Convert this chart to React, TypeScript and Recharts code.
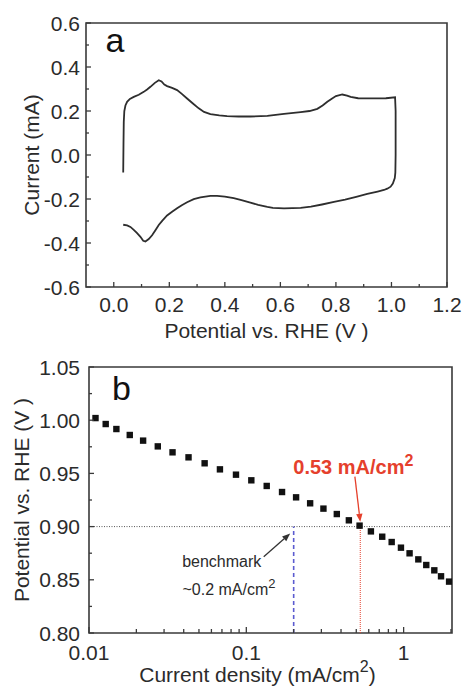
import React from 'react';
import {
  LineChart, Line, XAxis, YAxis, ReferenceArea, ReferenceDot, ReferenceLine,
  ComposedChart, Scatter,
} from 'recharts';

// ---------- Panel a: cyclic voltammogram ----------
const cvPotential = [
  0.034, 0.035, 0.036, 0.038, 0.042, 0.048, 0.058, 0.072, 0.09, 0.108, 0.12, 0.132, 0.148, 0.162, 0.172,
  0.182, 0.192, 0.21, 0.228, 0.245, 0.264, 0.285, 0.306, 0.325, 0.348, 0.38, 0.408, 0.45, 0.492, 0.553,
  0.613, 0.673, 0.705, 0.733, 0.752, 0.769, 0.785, 0.8, 0.823, 0.84, 0.853, 0.88, 0.901, 0.94, 0.98, 1.013,
  1.015, 1.015, 1.014, 1.012, 1.005, 0.997, 0.985, 0.973, 0.95, 0.913, 0.873, 0.833, 0.793, 0.75, 0.71,
  0.673, 0.613, 0.573, 0.553, 0.52, 0.492, 0.46, 0.432, 0.4, 0.372, 0.348, 0.312, 0.288, 0.264, 0.245,
  0.228, 0.21, 0.192, 0.175, 0.162, 0.15, 0.138, 0.126, 0.114, 0.106, 0.096, 0.084, 0.072, 0.06, 0.048, 0.034,
];
const cvCurrent = [
  -0.08, 0.05, 0.15, 0.2, 0.225, 0.242, 0.255, 0.264, 0.274, 0.287, 0.298, 0.31, 0.328, 0.34, 0.334,
  0.32, 0.313, 0.305, 0.295, 0.278, 0.257, 0.234, 0.212, 0.196, 0.186, 0.18, 0.177, 0.175, 0.175, 0.178,
  0.187, 0.195, 0.2, 0.21, 0.225, 0.242, 0.256, 0.268, 0.275, 0.27, 0.264, 0.258, 0.257, 0.257, 0.258, 0.262,
  0.2, 0.0, -0.08, -0.105, -0.13, -0.144, -0.153, -0.159, -0.166, -0.177, -0.19, -0.203, -0.213, -0.225, -0.235,
  -0.24, -0.243, -0.24, -0.236, -0.227, -0.216, -0.205, -0.196, -0.189, -0.186, -0.186, -0.193, -0.201, -0.215, -0.228,
  -0.242, -0.258, -0.275, -0.298, -0.318, -0.342, -0.365, -0.382, -0.393, -0.39, -0.372, -0.355, -0.34, -0.327, -0.32, -0.317,
];
const cvXTicks = [0, 0.1, 0.2, 0.3, 0.4, 0.5, 0.6, 0.7, 0.8, 0.9, 1.0, 1.1, 1.2];
const cvYTicks = [-0.6, -0.5, -0.4, -0.3, -0.2, -0.1, 0, 0.1, 0.2, 0.3, 0.4, 0.5, 0.6];
const cvXDomain = [-0.1, 1.2];
const cvYDomain = [-0.6, 0.6];

// ---------- Panel b: Tafel-like plot ----------
const currentDensity = [
  0.011, 0.01277, 0.01493, 0.01816, 0.02208, 0.02737, 0.03396, 0.04292, 0.05433, 0.06797,
  0.08597, 0.1076, 0.1348, 0.1687, 0.2072, 0.2545, 0.3092, 0.3761, 0.4486, 0.5248,
  0.6194, 0.7311, 0.8395, 0.9616, 1.091, 1.24, 1.393, 1.567, 1.729, 1.945,
];
const potential = [
  1.002, 0.9964, 0.9917, 0.9861, 0.9808, 0.9754, 0.9698, 0.9651, 0.9595, 0.9538,
  0.9488, 0.9435, 0.9382, 0.9325, 0.9275, 0.9219, 0.9169, 0.9118, 0.9059, 0.9009,
  0.8955, 0.8905, 0.8855, 0.8802, 0.8749, 0.8692, 0.8639, 0.8589, 0.8533, 0.8483,
];
const bXTicks = [
  0.01, 0.02, 0.03, 0.04, 0.05, 0.06, 0.07, 0.08, 0.09,
  0.1, 0.2, 0.3, 0.4, 0.5, 0.6, 0.7, 0.8, 0.9, 1, 2,
];
const bXMajor = [0.01, 0.1, 1];
const bYTicks = [0.8, 0.825, 0.85, 0.875, 0.9, 0.925, 0.95, 0.975, 1.0, 1.025, 1.05];
const bXDomain = [0.01, 2.03];
const bYDomain = [0.8, 1.05];
const targetPotential = 0.9;
const benchmarkDensity = 0.2;
const measuredDensity = 0.53;

const cvData = cvPotential.map((v, k) => ({ v, i: cvCurrent[k] }));
const tafelData = currentDensity.map((j, k) => ({ j, e: potential[k] }));

const FONT = '"Liberation Sans", Arial, sans-serif';
const INK = '#2b2b2b';
const AXIS = '#3a3a3a';
const RED = '#e5402c';

const isMult = (v: number, step: number) => Math.abs(v / step - Math.round(v / step)) < 1e-6;

const XTickA = (p: any) => {
  const { x, y, payload } = p;
  const major = isMult(payload.value, 0.2);
  return (
    <g>
      <line x1={x} x2={x} y1={y} y2={y - (major ? 5 : 3)} stroke={AXIS} strokeWidth={1.3} />
      {major && (
        <text x={x} y={y + 17} textAnchor="middle" dominantBaseline="central" fontFamily={FONT} fontSize={21} fill={INK}>
          {payload.value.toFixed(1)}
        </text>
      )}
    </g>
  );
};

const YTickA = (p: any) => {
  const { x, y, payload } = p;
  const major = isMult(payload.value, 0.2);
  return (
    <g>
      <line x1={x} x2={x + (major ? 5 : 3)} y1={y} y2={y} stroke={AXIS} strokeWidth={1.3} />
      {major && (
        <text x={x - 6} y={y} textAnchor="end" dominantBaseline="central" fontFamily={FONT} fontSize={21} fill={INK}>
          {payload.value.toFixed(1)}
        </text>
      )}
    </g>
  );
};

const XTickB = (p: any) => {
  const { x, y, payload } = p;
  const major = bXMajor.some((m) => Math.abs(m - payload.value) < 1e-9);
  return (
    <g>
      <line x1={x} x2={x} y1={y} y2={y - (major ? 6 : 4)} stroke={AXIS} strokeWidth={1.3} />
      {major && (
        <text x={x} y={y + 19} textAnchor="middle" dominantBaseline="central" fontFamily={FONT} fontSize={21} fill={INK}>
          {String(payload.value)}
        </text>
      )}
    </g>
  );
};

const YTickB = (p: any) => {
  const { x, y, payload } = p;
  const major = isMult(payload.value, 0.05);
  return (
    <g>
      <line x1={x} x2={x + (major ? 5 : 3)} y1={y} y2={y} stroke={AXIS} strokeWidth={1.3} />
      {major && (
        <text x={x - 9} y={y} textAnchor="end" dominantBaseline="central" fontFamily={FONT} fontSize={21} fill={INK}>
          {payload.value.toFixed(2)}
        </text>
      )}
    </g>
  );
};

const SquareDot = (p: any) => {
  const { cx, cy } = p;
  if (cx == null || cy == null) return null;
  return <rect x={cx - 3.2} y={cy - 3.2} width={6.4} height={6.4} fill="#111" />;
};

const makeArrow = (color: string) => (p: any) => {
  const { x1, y1, x2, y2 } = p;
  const ang = Math.atan2(y2 - y1, x2 - x1);
  const L = 8;
  const W = 3.2;
  const bx = x2 - L * Math.cos(ang);
  const by = y2 - L * Math.sin(ang);
  const px = -Math.sin(ang) * W;
  const py = Math.cos(ang) * W;
  return (
    <g>
      <line x1={x1} y1={y1} x2={bx} y2={by} stroke={color} strokeWidth={1.3} />
      <polygon points={`${x2},${y2} ${bx + px},${by + py} ${bx - px},${by - py}`} fill={color} />
    </g>
  );
};

const textAt = (content: React.ReactNode, size: number, color: string, bold = false) => (p: any) => (
  <text x={p.cx} y={p.cy} fontFamily={FONT} fontSize={size} fill={color} fontWeight={bold ? 'bold' : 'normal'}>
    {content}
  </text>
);

const yTitle = (text: string, cx: number) => (p: any) => {
  const vb = p.viewBox || {};
  const cy = vb.y + vb.height / 2;
  return (
    <text x={cx} y={cy} transform={`rotate(-90 ${cx} ${cy})`} textAnchor="middle" dominantBaseline="central" fontFamily={FONT} fontSize={21} fill={INK}>
      {text}
    </text>
  );
};

export default function App() {
  return (
    <div style={{ position: 'absolute', left: 0, top: 0, width: 463, height: 687, background: '#fff' }}>
      <LineChart width={463} height={345} data={cvData} margin={{ top: 23, right: 16, bottom: 0, left: 0 }}>
        <XAxis
          dataKey="v" type="number" domain={cvXDomain} allowDataOverflow ticks={cvXTicks} interval={0}
          tickSize={0} tickMargin={0} axisLine={false} tickLine={false} tick={XTickA} height={58}
          label={(p: any) => {
            const vb = p.viewBox || {};
            return (
              <text x={vb.x + vb.width / 2} y={vb.y + 43} textAnchor="middle" dominantBaseline="central" fontFamily={FONT} fontSize={21} fill={INK}>
                Potential vs. RHE (V )
              </text>
            );
          }}
        />
        <YAxis
          dataKey="i" type="number" domain={cvYDomain} allowDataOverflow ticks={cvYTicks} interval={0}
          tickSize={0} tickMargin={0} axisLine={false} tickLine={false} tick={YTickA} width={86}
          label={yTitle('Current (mA)', 31)}
        />
        <ReferenceArea x1={cvXDomain[0]} x2={cvXDomain[1]} y1={cvYDomain[0]} y2={cvYDomain[1]} fill="none" stroke={AXIS} strokeWidth={1.6} ifOverflow="visible" />
        <Line dataKey="i" type="linear" stroke="#2e2e2e" strokeWidth={1.8} dot={false} isAnimationActive={false} />
        <ReferenceDot x={-0.03} y={0.467} r={0} shape={textAt('a', 34, '#111')} />
      </LineChart>
      <ComposedChart width={463} height={342} data={tafelData} margin={{ top: 22, right: 11, bottom: 0, left: 0 }}>
        <XAxis
          dataKey="j" type="number" scale="log" domain={bXDomain} allowDataOverflow ticks={bXTicks} interval={0}
          tickSize={0} tickMargin={0} axisLine={false} tickLine={false} tick={XTickB} height={54}
          label={(p: any) => {
            const vb = p.viewBox || {};
            const cx = vb.x + vb.width / 2 - 13;
            const cy = vb.y + 41;
            return (
              <text x={cx} y={cy} textAnchor="middle" dominantBaseline="central" fontFamily={FONT} fontSize={21} fill={INK}>
                Current density (mA/cm<tspan dy={-8} fontSize={16}>2</tspan><tspan dy={8}>)</tspan>
              </text>
            );
          }}
        />
        <YAxis
          dataKey="e" type="number" domain={bYDomain} allowDataOverflow ticks={bYTicks} interval={0}
          tickSize={0} tickMargin={0} axisLine={false} tickLine={false} tick={YTickB} width={89}
          label={yTitle('Potential vs. RHE (V )', 21)}
        />
        <ReferenceArea x1={bXDomain[0]} x2={bXDomain[1]} y1={bYDomain[0]} y2={bYDomain[1]} fill="none" stroke={AXIS} strokeWidth={1.6} ifOverflow="visible" />
        <ReferenceLine y={targetPotential} stroke="#555" strokeWidth={1} strokeDasharray="1 1.5" />
        <ReferenceLine segment={[{ x: benchmarkDensity, y: bYDomain[0] }, { x: benchmarkDensity, y: targetPotential }]} stroke="#5b5bd0" strokeWidth={1.6} strokeDasharray="4 3" />
        <ReferenceLine segment={[{ x: measuredDensity, y: bYDomain[0] }, { x: measuredDensity, y: targetPotential }]} stroke={RED} strokeWidth={1} strokeDasharray="1 1" />
        <ReferenceLine segment={[{ x: 0.49, y: 0.947 }, { x: measuredDensity, y: 0.9045 }]} shape={makeArrow(RED)} />
        <ReferenceLine segment={[{ x: 0.129, y: 0.8717 }, { x: 0.19, y: 0.8935 }]} shape={makeArrow('#333')} />
        <Scatter dataKey="e" shape={SquareDot} isAnimationActive={false} />
        <ReferenceDot x={0.01402} y={1.019} r={0} shape={textAt('b', 34, '#111')} />
        <ReferenceDot x={0.199} y={0.949} r={0} shape={textAt(<>0.53 mA/cm<tspan dy={-8} fontSize={16}>2</tspan></>, 20, RED, true)} />
        <ReferenceDot x={0.0391} y={0.862} r={0} shape={textAt('benchmark', 16, INK)} />
        <ReferenceDot x={0.0393} y={0.8357} r={0} shape={textAt(<>~0.2 mA/cm<tspan dy={-7} fontSize={13}>2</tspan></>, 16, INK)} />
      </ComposedChart>
    </div>
  );
}
